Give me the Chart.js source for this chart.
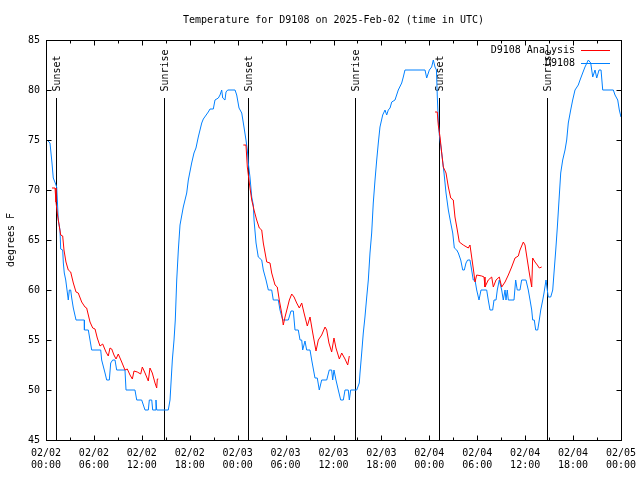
<!DOCTYPE html>
<html>
<head>
<meta charset="utf-8">
<script src="https://cdn.jsdelivr.net/npm/chart.js@4/dist/chart.umd.min.js"></script>
<style>
  html, body { margin: 0; padding: 0; background: #fff; }
  canvas { display: block; }
</style>
</head>
<body>
<canvas id="tempChart" width="640" height="480"></canvas>
<script>
// hours since 02/02 00:00 UTC, temperature in deg F
const obsPoints = [
  [0.00,75.1],[0.50,74.7],[0.75,72.7],[0.91,71.2],[1.16,70.7],[1.34,70.3],[1.54,67],[1.75,66],
  [1.84,64.1],[2.09,64],[2.17,62.7],[2.29,61.7],[2.47,61],[2.79,59],[2.92,60],[3.09,60],
  [3.22,59.2],[3.42,58.2],[3.76,57],[4.80,57],[4.81,56],[5.30,56],[5.51,55],[5.72,54],
  [6.85,54],[6.97,53],[7.39,51.7],[7.60,51],[7.93,51],[8.10,52.7],[8.35,53],[8.64,53],
  [8.85,52],[9.89,52],[10.02,50],[11.14,50],[11.36,49],[11.98,49],[12.40,48],[12.81,48],
  [12.94,49],[13.24,49],[13.36,48],[13.65,48],[13.77,49],[13.86,48],[15.31,48],[15.53,49],
  [15.82,53],[16.03,55],[16.19,57],[16.37,61],[16.57,64],[16.78,66.5],[17.19,68.3],[17.62,69.7],
  [17.82,71],[18.24,72.7],[18.53,73.7],[18.78,74.2],[19.07,75.3],[19.50,76.7],[19.70,77.1],[20.32,77.8],
  [20.54,78.1],[20.95,78.1],[21.16,79],[21.58,79.2],[21.79,79.5],[22.00,80],[22.13,79.2],[22.41,79],
  [22.54,79.8],[22.75,80],[23.67,80],[23.88,79.5],[24.17,78.2],[24.51,77.7],[24.79,76.3],[25.04,75],
  [25.21,74],[25.33,72.7],[25.54,71.3],[25.76,69.3],[25.96,68.5],[26.05,67],[26.30,64.7],[26.58,63.3],
  [27.01,63],[27.21,62],[27.55,61],[27.84,60],[28.26,60],[28.46,59],[29.09,59],[29.30,58],
  [29.64,57],[30.34,57],[30.68,57.9],[30.97,57.9],[31.18,56],[31.59,56],[31.81,55],[32.02,55],
  [32.14,54],[32.43,54.9],[32.64,54],[33.06,54],[33.27,53],[33.68,51.2],[33.97,51.2],[34.22,50],
  [34.52,51],[35.15,51],[35.47,52],[35.77,52],[35.90,51],[36.06,52],[36.31,51],[36.60,50],
  [36.90,49],[37.23,49],[37.44,50],[37.85,50],[37.98,49],[38.15,50],[38.91,50],[39.23,50.7],
  [39.32,51.7],[39.53,53.7],[39.73,55.7],[39.94,57.3],[40.16,59.3],[40.36,61],[40.57,63.7],[40.78,65.7],
  [40.98,68.7],[41.20,71],[41.41,73],[41.61,74.7],[41.82,76.3],[42.16,77.5],[42.45,78],[42.66,77.5],
  [42.86,78],[43.08,78.2],[43.29,78.8],[43.70,79],[44.11,80],[44.54,80.7],[44.74,81.3],[44.95,82],
  [47.46,82],[47.67,81.2],[48.00,82],[48.29,82.3],[48.50,83],[48.71,82.3],[48.89,82],[48.99,79.5],
  [49.12,77],[49.25,75.5],[49.55,73.7],[49.84,71.7],[50.09,69.7],[50.38,68],[50.68,66.7],[50.93,65.7],
  [51.13,64.2],[51.43,64],[51.63,63.7],[51.93,63],[52.18,62],[52.38,62],[52.59,62.7],[52.80,63],
  [53.09,63],[53.30,62],[53.50,61],[53.72,61],[53.93,60],[54.22,59],[54.47,60],[55.18,60],
  [55.38,59],[55.60,58],[55.93,58],[56.10,59],[56.35,59],[56.51,60],[56.76,61],[57.06,60],
  [57.26,59],[57.48,60],[57.60,59],[57.76,60],[57.89,59],[58.60,59],[58.81,61],[59.01,60],
  [59.35,60],[59.56,61],[60.10,61],[60.39,60],[60.61,59],[60.82,58],[60.94,57],[61.14,57],
  [61.32,56],[61.57,56],[61.77,57],[61.95,58],[62.20,59],[62.36,59.7],[62.61,61],[62.77,60],
  [62.90,59.3],[63.20,59.3],[63.45,60],[63.61,61.7],[63.83,64],[64.03,66.3],[64.24,69],[64.45,71.7],
  [64.70,73],[64.99,74],[65.20,75],[65.40,76.7],[65.70,78],[65.95,79],[66.24,80],[66.65,80.5],
  [66.87,81],[67.20,81.7],[67.49,82.3],[67.91,83],[68.21,82.7],[68.46,81.3],[68.75,82],[68.96,81.2],
  [69.25,82],[69.50,82],[69.71,80],[71.04,80],[71.25,79.5],[71.59,79],[71.79,78],[72.00,77.3]
];

const analysisPoints = [
  [0.75,70.2],[1.13,70.2],[1.25,68.8],[1.44,67.5],[1.54,67],[1.84,65.5],[2.09,65.4],[2.25,64],
  [2.50,62.8],[2.79,62],[3.09,61.8],[3.42,60.7],[3.76,59.8],[4.04,59.7],[4.47,58.8],[4.88,58.3],
  [5.09,58.2],[5.51,56.8],[5.85,56.2],[6.14,56.1],[6.42,55.2],[6.76,54.4],[7.10,54.6],[7.51,53.8],
  [7.80,53.4],[8.01,54.2],[8.23,54.1],[8.51,53.5],[8.77,53.1],[9.05,53.6],[9.48,52.8],[9.89,52],
  [10.18,52.1],[10.52,51.5],[10.81,51.1],[11.02,51.9],[11.43,51.8],[11.86,51.6],[12.06,52.3],[12.40,51.7],
  [12.81,50.9],[13.02,52.2],[13.31,51.7],[13.65,50.7],[13.86,50.2],[13.94,51.1],[14.06,51.1],
  [14.5,null],
  [24.71,74.5],[25.04,74.5],[25.21,72.3],[25.46,70.7],[25.76,69],[26.05,68],[26.38,67],[26.71,66.2],
  [27.01,66],[27.21,64.7],[27.64,62.8],[28.05,62.7],[28.26,61.7],[28.68,60.5],[28.96,60.3],[29.21,59],
  [29.51,57.7],[29.71,56.5],[29.93,57.3],[30.22,58.2],[30.47,59],[30.77,59.6],[31.06,59.3],[31.39,58.7],
  [31.72,58.2],[32.02,58.7],[32.31,57.7],[32.72,56.4],[33.06,57.3],[33.40,55.7],[33.81,53.9],[34.10,55],
  [34.52,55.5],[34.94,56.3],[35.15,56],[35.43,54.7],[35.77,53.8],[36.06,55.2],[36.31,54.2],[36.73,53.1],
  [37.03,53.7],[37.44,53.1],[37.78,52.5],[37.98,53.4],
  [43.0,null],
  [48.71,77.8],[48.99,77.8],[49.12,76.5],[49.34,75.3],[49.55,73.7],[49.75,72.3],[50.09,71.7],[50.38,70.3],
  [50.68,69.2],[51.00,69],[51.21,67.3],[51.50,66],[51.75,64.8],[52.25,64.5],[52.88,64.2],[53.09,64.5],
  [53.30,63.3],[53.58,61.7],[53.72,60.8],[53.93,61.5],[54.56,61.4],[54.85,61.3],[54.97,60.3],[55.38,61],
  [55.81,61.3],[56.01,60.3],[56.35,61],[56.76,61.3],[57.06,60.3],[57.48,60.8],[57.89,61.5],[58.31,62.3],
  [58.73,63.2],[59.14,63.4],[59.35,64],[59.77,64.8],[59.98,64.5],[60.27,63],[60.52,61.7],[60.82,60.3],
  [60.94,63.2],[61.23,62.8],[61.52,62.5],[61.77,62.2],[62.07,62.3]
];

const sunHours = [1.25, 14.81, 25.33, 38.69, 49.25, 62.77];
const sunLabels = ['Sunset', 'Sunrise', 'Sunset', 'Sunrise', 'Sunset', 'Sunrise'];

const xTickLabels = [
  ['02/02', '00:00'], ['02/02', '06:00'], ['02/02', '12:00'], ['02/02', '18:00'],
  ['02/03', '00:00'], ['02/03', '06:00'], ['02/03', '12:00'], ['02/03', '18:00'],
  ['02/04', '00:00'], ['02/04', '06:00'], ['02/04', '12:00'], ['02/04', '18:00'],
  ['02/05', '00:00']
];

const chartTitle = 'Temperature for D9108 on 2025-Feb-02 (time in UTC)';
const seriesNames = ['D9108 Analysis', 'D9108'];
const seriesColors = ['#ff0000', '#0080ff'];

const FONT = { family: '"DejaVu Sans Mono", "Liberation Mono", monospace', size: 10, weight: 'normal' };
const fontStr = '10px "DejaVu Sans Mono", "Liberation Mono", monospace';

const toXY = pts => pts.map(p => ({ x: p[0], y: p[1] }));

// gnuplot-like box, inward ticks, sunrise/sunset markers, title and legend
const gnuFrame = {
  id: 'gnuFrame',
  beforeDatasetsDraw(chart) {
    const { ctx, chartArea: ca, scales: { x, y } } = chart;
    ctx.save();
    ctx.strokeStyle = '#000';
    ctx.lineWidth = 1;
    ctx.fillStyle = '#000';
    ctx.font = fontStr;
    sunHours.forEach((h, i) => {
      const px = Math.round(x.getPixelForValue(h)) + 0.5;
      ctx.beginPath();
      ctx.moveTo(px, ca.bottom);
      ctx.lineTo(px, y.getPixelForValue(79.2));
      ctx.stroke();
      ctx.save();
      ctx.translate(px + 1, y.getPixelForValue(79.85));
      ctx.rotate(-Math.PI / 2);
      ctx.textAlign = 'left';
      ctx.textBaseline = 'middle';
      ctx.fillText(sunLabels[i], 0, 0);
      ctx.restore();
    });
    ctx.restore();
  },
  afterDatasetsDraw(chart) {
    const { ctx, chartArea: ca, scales: { x, y } } = chart;
    ctx.save();
    ctx.strokeStyle = '#000';
    ctx.lineWidth = 1;
    const L = Math.round(ca.left) + 0.5, R = Math.round(ca.right) + 0.5;
    const T = Math.round(ca.top) + 0.5, B = Math.round(ca.bottom) + 0.5;
    ctx.beginPath();
    const xt = x.ticks.map(t => t.value);
    xt.forEach((v, i) => {
      const px = Math.round(x.getPixelForValue(v)) + 0.5;
      ctx.moveTo(px, B); ctx.lineTo(px, B - 5);
      ctx.moveTo(px, T); ctx.lineTo(px, T + 5);
      if (i < xt.length - 1) {
        const mx = Math.round(x.getPixelForValue((v + xt[i + 1]) / 2)) + 0.5;
        ctx.moveTo(mx, B); ctx.lineTo(mx, B - 3);
        ctx.moveTo(mx, T); ctx.lineTo(mx, T + 3);
      }
    });
    y.ticks.forEach(t => {
      const py = Math.round(y.getPixelForValue(t.value)) + 0.5;
      ctx.moveTo(L, py); ctx.lineTo(L + 5, py);
      ctx.moveTo(R, py); ctx.lineTo(R - 5, py);
    });
    ctx.stroke();
    ctx.strokeRect(L, T, R - L, B - T);
    ctx.restore();
  },
  afterDraw(chart) {
    const { ctx, chartArea: ca } = chart;
    ctx.save();
    ctx.font = fontStr;
    ctx.fillStyle = '#000';
    ctx.textAlign = 'center';
    ctx.textBaseline = 'middle';
    ctx.fillText(chartTitle, (ca.left + ca.right) / 2, ca.top - 20);
    ctx.textAlign = 'right';
    ctx.lineWidth = 1;
    chart.data.datasets.forEach((ds, i) => {
      const rowY = Math.round(ca.top + 10 + i * 13) + 0.5;
      ctx.fillText(ds.label, ca.right - 46, rowY);
      ctx.strokeStyle = ds.borderColor;
      ctx.beginPath();
      ctx.moveTo(ca.right - 40, rowY);
      ctx.lineTo(ca.right - 11, rowY);
      ctx.stroke();
    });
    ctx.restore();
  }
};

new Chart(document.getElementById('tempChart'), {
  type: 'line',
  data: {
    datasets: [
      { label: seriesNames[0], data: toXY(analysisPoints), borderColor: seriesColors[0], borderWidth: 1,
        pointRadius: 0, tension: 0, spanGaps: false, fill: false },
      { label: seriesNames[1], data: toXY(obsPoints), borderColor: seriesColors[1], borderWidth: 1,
        pointRadius: 0, tension: 0, fill: false }
    ]
  },
  options: {
    responsive: false,
    animation: false,
    devicePixelRatio: 1,
    layout: { padding: { left: 0, right: 19, top: 40, bottom: 0 } },
    plugins: {
      legend: { display: false },
      tooltip: { enabled: false },
      title: { display: false }
    },
    scales: {
      x: {
        type: 'linear', min: 0, max: 72,
        grid: { display: false, drawTicks: false },
        border: { display: false },
        ticks: {
          stepSize: 6, autoSkip: false, maxRotation: 0, color: '#000', font: FONT, padding: 7,
          callback: v => xTickLabels[Math.round(v / 6)]
        },
        afterFit: s => { s.height = 40; s.paddingLeft = 0; s.paddingRight = 0; }
      },
      y: {
        min: 45, max: 85,
        grid: { display: false, drawTicks: false },
        border: { display: false },
        ticks: { stepSize: 5, color: '#000', font: FONT, padding: 6 },
        title: { display: true, text: 'degrees F', color: '#000', font: FONT, padding: { top: 5, bottom: 0 } },
        afterFit: s => { s.width = 46; s.paddingTop = 0; s.paddingBottom = 0; }
      }
    }
  },
  plugins: [gnuFrame]
});
</script>
</body>
</html>
